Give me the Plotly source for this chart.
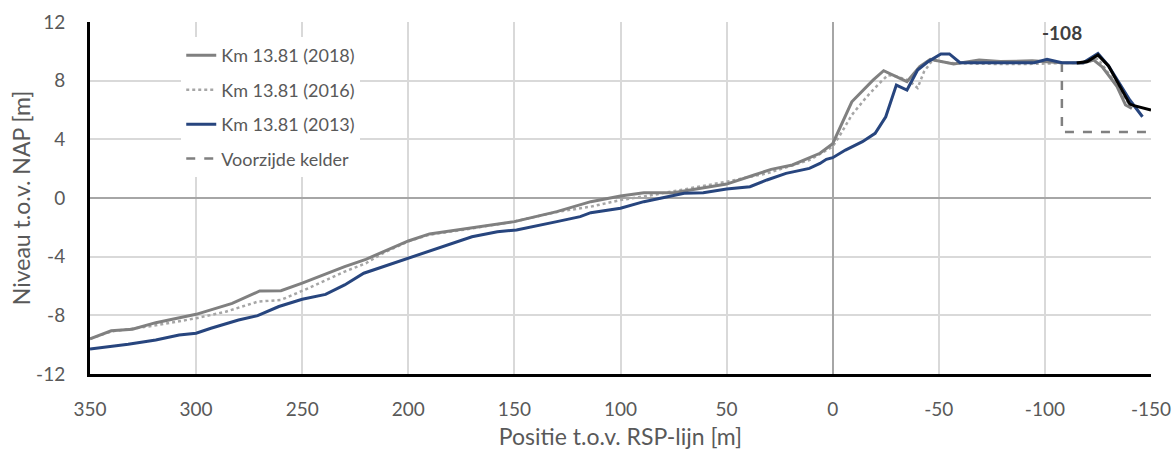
import plotly.graph_objects as go

# ---------------- data ----------------
x_2018 = [350, 340, 330, 319, 300, 283, 270, 260, 250, 239, 230, 220, 200, 190, 171, 150, 130, 119, 114, 100,
          89, 75, 50, 37, 29, 19, 6, 0, -9, -19, -24, -35, -41, -46, -52, -57, -69, -79, -94, -100, -108,
          -118, -123, -127, -134, -138, -141]
y_2018 = [-9.6, -9.05, -8.95, -8.5, -7.93, -7.18, -6.34, -6.32, -5.8, -5.18, -4.68, -4.18, -2.93, -2.45, -2.07,
          -1.61, -0.93, -0.45, -0.25, 0.14, 0.36, 0.36, 0.95, 1.57, 1.95, 2.25, 3.05, 3.7, 6.56, 8.04, 8.68,
          7.93, 8.95, 9.45, 9.3, 9.13, 9.4, 9.3, 9.35, 9.3, 9.22, 9.2, 9.4, 8.95, 7.6, 6.34, 6.1]

x_2016 = [350, 340, 321, 300, 286, 271, 260, 249, 230, 220, 212, 200, 190, 171, 150, 130, 114, 100, 85, 67,
          50, 31, 11, 0, -3, -9, -16, -22, -26, -30, -36, -40, -43, -47, -55, -70, -90, -110, -118, -125,
          -133, -140]
y_2016 = [-9.6, -9.1, -8.73, -8.2, -7.75, -7.07, -6.95, -6.27, -5.02, -4.45, -3.77, -2.95, -2.5, -2.1, -1.6,
          -0.95, -0.59, -0.14, 0.2, 0.66, 1.11, 1.68, 2.59, 3.5, 4.18, 5.66, 6.9, 7.82, 8.38, 8.3, 8.0, 7.5,
          8.6, 9.4, 9.2, 9.15, 9.13, 9.2, 9.2, 9.5, 7.9, 6.3]

x_2013 = [350, 332, 319, 308, 300, 293, 280, 271, 261, 250, 239, 230, 221, 200, 185, 170, 158, 149, 130, 119,
          114, 100, 89, 70, 61, 50, 39, 31, 22, 11, 6, 3, 0, -6, -14, -20, -25, -30, -35, -40, -45, -51, -55,
          -60, -80, -95, -101, -108, -118, -125, -130, -140, -146]
y_2013 = [-10.3, -9.97, -9.68, -9.34, -9.22, -8.88, -8.32, -8.02, -7.4, -6.9, -6.57, -5.93, -5.13, -4.11,
          -3.39, -2.64, -2.3, -2.18, -1.61, -1.27, -1.0, -0.7, -0.25, 0.32, 0.36, 0.61, 0.77, 1.23, 1.68, 2.02,
          2.36, 2.64, 2.75, 3.27, 3.84, 4.41, 5.54, 7.7, 7.36, 8.73, 9.3, 9.82, 9.82, 9.22, 9.22, 9.22, 9.45,
          9.22, 9.22, 9.86, 9.0, 6.68, 5.54]

x_108 = [-115, -120, -125, -130, -140, -142, -150]
y_108 = [9.2, 9.3, 9.75, 9.0, 6.4, 6.3, 6.0]

x_kelder = [-108, -108, -148]
y_kelder = [9.2, 4.5, 4.5]

label_108 = "-108"
label_108_pos = (-108, 11.3)

x_ticks = [350, 300, 250, 200, 150, 100, 50, 0, -50, -100, -150]
x_ticktext = ["350", "300", "250", "200", "150", "100", "50", "0", "-50", "-100", "-150"]
y_ticks = [-12, -8, -4, 0, 4, 8, 12]
y_ticktext = ["-12", "-8", "-4", "0", "4", "8", "12"]

FONT = "Lato, 'Open Sans', sans-serif"
TXT = "#595959"

fig = go.Figure()
fig.add_trace(go.Scatter(x=x_kelder, y=y_kelder, mode="lines", name="Voorzijde kelder",
                         line=dict(color="#808080", width=2.5, dash="dash"),
                         legendrank=4, legendgroup="d"))
fig.add_trace(go.Scatter(x=x_2016, y=y_2016, mode="lines", name="Km 13.81 (2016)",
                         line=dict(color="#a6a6a6", width=2.5, dash="dot"),
                         legendrank=2, legendgroup="b"))
fig.add_trace(go.Scatter(x=x_2018, y=y_2018, mode="lines", name="Km 13.81 (2018)",
                         line=dict(color="#808080", width=3),
                         legendrank=1, legendgroup="a"))
fig.add_trace(go.Scatter(x=x_2013, y=y_2013, mode="lines", name="Km 13.81 (2013)",
                         line=dict(color="#27457e", width=3),
                         legendrank=3, legendgroup="c"))
fig.add_trace(go.Scatter(x=x_108, y=y_108, mode="lines", name=label_108,
                         line=dict(color="#000000", width=3), showlegend=False))

fig.add_annotation(x=label_108_pos[0], y=label_108_pos[1], text="<b>" + label_108 + "</b>",
                   showarrow=False, font=dict(family=FONT, size=19, color="#404040"))

fig.update_layout(
    width=1174, height=450,
    margin=dict(l=90, r=23, t=22, b=76),
    paper_bgcolor="white", plot_bgcolor="white",
    font=dict(family=FONT, color=TXT, size=19),
    legend=dict(x=0.086, y=0.957, xanchor="left", yanchor="top",
                bgcolor="rgba(255,255,255,1)", font=dict(size=18, color=TXT),
                tracegroupgap=8),
)
fig.update_xaxes(range=[350, -150], tickvals=x_ticks, ticktext=x_ticktext, ticks="", showgrid=True,
                 gridcolor="#d9d9d9", gridwidth=1.5, automargin=False,
                 zeroline=True, zerolinecolor="#a6a6a6", zerolinewidth=2,
                 showline=True, linecolor="black", linewidth=3,
                 ticklabelstandoff=16, tickfont=dict(size=19, color=TXT),
                 title=dict(text="Positie t.o.v. RSP-lijn [m]", font=dict(size=23, color=TXT), standoff=22))
fig.update_yaxes(range=[-12, 12], tickvals=y_ticks, ticktext=y_ticktext, ticks="", showgrid=True,
                 gridcolor="#d9d9d9", gridwidth=1.5, automargin=False,
                 zeroline=True, zerolinecolor="#a6a6a6", zerolinewidth=2,
                 showline=True, linecolor="black", linewidth=3,
                 ticklabelstandoff=18, tickfont=dict(size=19, color=TXT),
                 title=dict(text="Niveau t.o.v. NAP [m]", font=dict(size=23, color=TXT), standoff=0))

fig.write_html("out.html")
